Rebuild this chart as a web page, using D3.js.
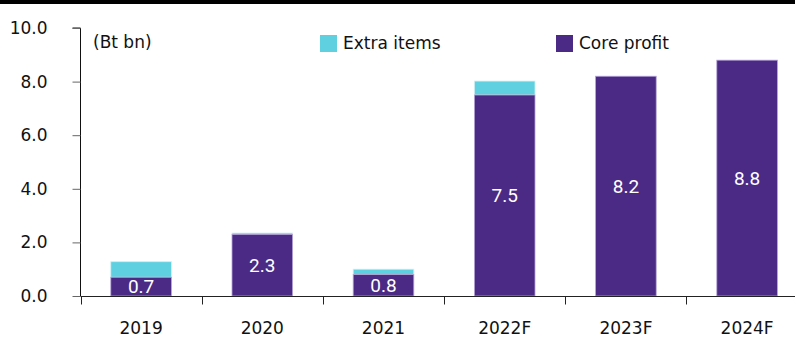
<!DOCTYPE html>
<html><head><meta charset="utf-8">
<script src="https://cdn.jsdelivr.net/npm/d3@7"></script>
<style>body{margin:0;background:#fff}svg{display:block}</style>
</head><body>
<script>
const categories = ["2019","2020","2021","2022F","2023F","2024F"];
const coreProfit = [0.7, 2.3, 0.8, 7.5, 8.2, 8.8];
const extraItems = [0.58, 0.05, 0.2, 0.52, 0.0, 0.0];
const valueLabels = ["0.7","2.3","0.8","7.5","8.2","8.8"];
const yTicks = [0,2,4,6,8,10];
const seriesNames = ["Extra items","Core profit"];

const W=795,H=338;
const svg=d3.select("body").append("svg").attr("width",W).attr("height",H);
const axisFont="'DejaVu Sans', sans-serif";
const colCore="#4B2A85", colExtra="#5ED0DF";

svg.append("rect").attr("x",0).attr("y",0).attr("width",W).attr("height",4).attr("fill","#000");

const x=d3.scaleBand().domain(categories).range([80.5,807.7]).paddingInner(0.5).paddingOuter(0.25);
const y=d3.scaleLinear().domain([0,10]).range([296,28]);

// bars
const g=svg.append("g");
categories.forEach((c,i)=>{
  const bx=x(c), bw=x.bandwidth();
  if(extraItems[i]>0){
    g.append("rect").attr("x",bx).attr("width",bw)
     .attr("y",y(coreProfit[i]+extraItems[i])).attr("height",y(coreProfit[i])-y(coreProfit[i]+extraItems[i]))
     .attr("fill",colExtra).attr("stroke","#cfeff3").attr("stroke-width",0.8);
  }
  g.append("rect").attr("x",bx).attr("width",bw)
   .attr("y",y(coreProfit[i])).attr("height",y(0)-y(coreProfit[i]))
   .attr("fill",colCore).attr("stroke","#b5a3d6").attr("stroke-width",0.8);
  g.append("text").attr("x",bx+bw/2).attr("y",(y(coreProfit[i])+y(0))/2)
   .attr("text-anchor","middle").attr("dominant-baseline","central")
   .attr("fill","#fff").attr("font-family","Roboto, sans-serif").attr("font-size",19)
   .text(valueLabels[i]);
});

// y axis
const yAxis=svg.append("g").attr("transform","translate(80.5,0)")
  .call(d3.axisLeft(y).tickValues(yTicks).tickFormat(d3.format(".1f")).tickSize(8).tickPadding(25));
yAxis.select(".domain").attr("stroke","#111").attr("d","M-8,"+y(10)+"H0V"+y(0));
yAxis.selectAll(".tick line").attr("stroke","#666");
yAxis.selectAll("text").attr("font-family",axisFont).attr("font-size",17).attr("fill","#111");

// x axis
const xAxis=svg.append("g").attr("transform","translate(0,296.5)");
xAxis.append("line").attr("x1",80.5).attr("x2",W).attr("stroke","#222");
const bandStep=x.step();
categories.forEach((c,i)=>{
  const left=x(c)+x.bandwidth()/2-bandStep/2;
  xAxis.append("line").attr("x1",Math.round(left)+0.5).attr("x2",Math.round(left)+0.5).attr("y1",0).attr("y2",8).attr("stroke","#222");
  xAxis.append("text").attr("x",x(c)+x.bandwidth()/2).attr("y",37).attr("text-anchor","middle")
   .attr("font-family",axisFont).attr("font-size",17).attr("fill","#111").text(c);
});

// unit label
svg.append("text").attr("x",93).attr("y",48).attr("font-family",axisFont).attr("font-size",17).attr("fill","#111").text("(Bt bn)");

// legend
const legendX=[320,556], legendCols=[colExtra,colCore];
seriesNames.forEach((n,i)=>{
  svg.append("rect").attr("x",legendX[i]).attr("y",35).attr("width",17).attr("height",17).attr("fill",legendCols[i]);
  svg.append("text").attr("x",legendX[i]+23).attr("y",49).attr("font-family",axisFont).attr("font-size",17).attr("fill","#111").text(n);
});
</script>
</body></html>
